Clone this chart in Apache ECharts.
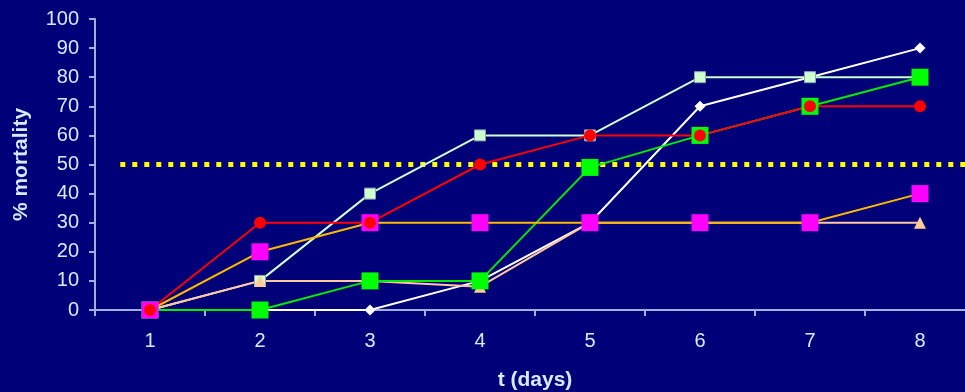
<!DOCTYPE html>
<html>
<head>
<meta charset="utf-8">
<script src="https://cdn.jsdelivr.net/npm/echarts@6/dist/echarts.min.js"></script>
<style>
  html, body { margin: 0; padding: 0; background: #000078; overflow: hidden; }
  #chart { width: 965px; height: 392px; }
</style>
</head>
<body>
<div id="chart"></div>
<script>
// Days after treatment
const days = ['1', '2', '3', '4', '5', '6', '7', '8'];

// Cumulative mortality (%) for each group
const whiteDiamond = [0, 0, 0, 10, 30, 70, 80, 90];
const paleSquare   = [0, 10, 40, 60, 60, 80, 80, 80];
const peachTri     = [0, 10, 10, 8, 30, 30, 30, 30];
const greenSquare  = [0, 0, 10, 10, 49, 60, 70, 80];
const magentaSq    = [0, 20, 30, 30, 30, 30, 30, 40];
const redCircle    = [0, 30, 30, 50, 60, 60, 70, 70];

// LC50 threshold line (x in day units on a hidden continuous axis)
const thresholdX = [0.73, 8.5];
const thresholdY = 50;

const font = 'Liberation Sans, Arial, sans-serif';
const labelColor = '#D4EAFF';
const axisColor = '#9FB0DC';

function lineSeries(name, data, lineColor, symbol, size, fill, border) {
  return {
    name, type: 'line', data,
    symbol, symbolSize: size,
    lineStyle: { color: lineColor, width: 2 },
    itemStyle: { color: fill, borderColor: border || fill, borderWidth: border ? 1 : 0 },
    emphasis: { disabled: true },
    animation: false
  };
}

const chart = echarts.init(document.getElementById('chart'));
chart.setOption({
  backgroundColor: '#000078',
  textStyle: { fontFamily: font },
  // plot area runs slightly past the right edge of the canvas
  grid: {
    left: 95, top: 19, width: 880, height: 291,
    containLabel: false, outerBoundsMode: 'none'
  },
  xAxis: [{
    type: 'category',
    data: days,
    boundaryGap: true,
    name: 't (days)',
    nameLocation: 'middle',
    nameGap: 60,
    nameTextStyle: { color: labelColor, fontSize: 21, fontWeight: 'bold', fontFamily: font },
    axisLine: { lineStyle: { color: axisColor, width: 2 } },
    axisTick: { show: true, length: 6, inside: false, lineStyle: { color: axisColor, width: 2 } },
    axisLabel: { color: labelColor, fontSize: 20, margin: 21, fontFamily: font },
    splitLine: { show: false }
  }, {
    type: 'value',
    min: 0.5, max: 8.5,
    show: false
  }],
  yAxis: {
    type: 'value',
    min: 0, max: 100, interval: 10,
    name: '% mortality',
    nameLocation: 'middle',
    nameGap: 63,
    nameTextStyle: { color: labelColor, fontSize: 21, fontWeight: 'bold', fontFamily: font },
    axisLine: { show: true, lineStyle: { color: axisColor, width: 2 } },
    axisTick: { show: true, length: 6, lineStyle: { color: axisColor, width: 2 } },
    axisLabel: { color: labelColor, fontSize: 20, margin: 16, fontFamily: font },
    splitLine: { show: false }
  },
  series: [
    {
      name: 'LC50', type: 'line', xAxisIndex: 1,
      data: thresholdX.map(x => [x, thresholdY]),
      symbol: 'none',
      lineStyle: { color: '#FFFF00', width: 5, type: [5, 7] },
      emphasis: { disabled: true },
      animation: false, z: 1
    },
    lineSeries('A', whiteDiamond, '#FFFFFF', 'diamond', 11, '#FFFFFF'),
    lineSeries('B', paleSquare, '#CCFFCC', 'rect', 11, '#CCFFCC', '#8FA0B8'),
    lineSeries('C', peachTri, '#FFC8A0', 'triangle', 12, '#FFCC99'),
    lineSeries('D', greenSquare, '#00EE00', 'rect', 17, '#00FF00'),
    lineSeries('E', magentaSq, '#FFB800', 'rect', 17, '#FF00FF'),
    lineSeries('F', redCircle, '#FF0000', 'circle', 12, '#FF0000')
  ]
});
</script>
</body>
</html>
